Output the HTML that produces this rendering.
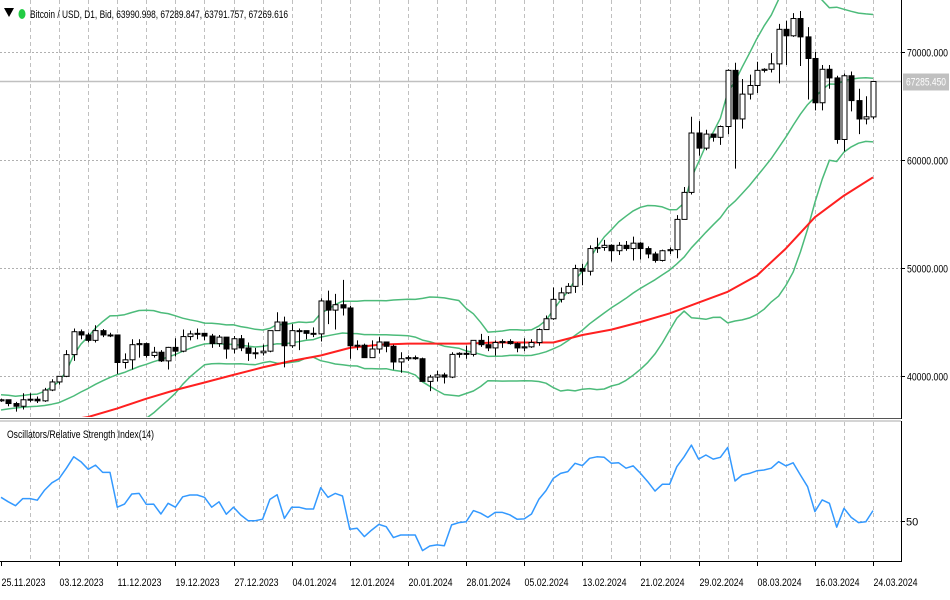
<!DOCTYPE html>
<html><head><meta charset="utf-8">
<style>
html,body{margin:0;padding:0;background:#fff;}
svg{display:block;font-family:"Liberation Sans",sans-serif;}
</style></head>
<body>
<svg id="chart" width="950" height="600" viewBox="0 0 950 600" xmlns="http://www.w3.org/2000/svg">
  <defs>
    <clipPath id="pclip"><rect x="0" y="0" width="900" height="417"/></clipPath>
    <clipPath id="rclip"><rect x="0" y="422" width="900" height="138"/></clipPath>
  </defs>
  <rect x="0" y="0" width="950" height="600" fill="#fff"/>
  <g id="grid"></g>
  <g id="price" clip-path="url(#pclip)"></g>
  <g id="rsi" clip-path="url(#rclip)"></g>
  <g id="axes">
    <line x1="0" y1="418.5" x2="901" y2="418.5" stroke="#555" stroke-width="1"/>
    <line x1="0" y1="421" x2="901" y2="421" stroke="#aaa" stroke-width="1"/>
    <line x1="901.5" y1="0" x2="901.5" y2="419" stroke="#000" stroke-width="1"/>
    <line x1="901.5" y1="421" x2="901.5" y2="562" stroke="#000" stroke-width="1"/>
    <line x1="0" y1="561.5" x2="902" y2="561.5" stroke="#000" stroke-width="1"/>
  </g>
  <g>
    <polygon points="4,8 14,8 9,17" fill="#000"/>
    <ellipse cx="22" cy="14" rx="3.5" ry="5" fill="#22cc44"/>
    <text x="30" y="18" font-size="11" textLength="258" lengthAdjust="spacingAndGlyphs" fill="#000">Bitcoin / USD, D1, Bid, 63990.998, 67289.847, 63791.757, 67269.616</text>
  </g>
  <text x="7" y="438" font-size="11" textLength="147" lengthAdjust="spacingAndGlyphs" fill="#000">Oscillators/Relative Strength Index(14)</text>
  <g id="labels"></g>
</svg>
<script>
// ---- data (prices in thousands USD) ----
const dates = ["25.11.2023","03.12.2023","11.12.2023","19.12.2023","27.12.2023","04.01.2024","12.01.2024","20.01.2024","28.01.2024","05.02.2024","13.02.2024","21.02.2024","29.02.2024","08.03.2024","16.03.2024","24.03.2024"];
const opens = [37.7,37.8,37.45,37.2,37.8,37.85,37.7,38.7,39.45,39.97,41.98,44.1,43.8,43.3,44.2,43.8,43.8,41.25,41.5,42.9,43.0,41.9,42.2,41.4,42.65,42.3,43.65,43.9,43.95,43.7,43.0,43.6,42.5,43.45,42.6,42.1,42.15,42.3,44.2,45.0,42.8,44.2,44.2,43.95,43.9,46.95,46.1,46.6,46.3,42.8,42.85,41.7,42.5,43.15,42.75,41.3,41.6,41.7,41.6,39.5,39.9,40.1,39.9,42.0,42.1,42.0,43.3,42.9,42.6,43.1,43.2,43.0,42.6,42.7,43.1,44.3,45.3,47.1,47.7,48.3,49.95,49.7,51.8,51.9,52.1,51.6,52.1,51.8,52.3,51.8,51.3,50.7,51.6,51.7,54.5,57.0,62.5,61.1,62.4,62.1,63.1,68.3,63.8,66.1,66.9,68.3,68.4,68.9,72.1,71.5,73.1,71.4,69.4,65.3,68.4,67.6,61.9,67.8,65.5,63.8,63.99];
const highs = [37.9,37.8,37.6,38.4,38.4,38.1,38.9,39.7,40.0,42.4,44.4,44.3,44.0,44.7,44.35,44.0,43.8,42.1,43.4,43.4,43.1,42.7,42.4,42.7,43.5,44.3,44.2,44.4,43.95,43.9,43.8,43.6,43.7,43.8,43.1,42.6,42.9,44.2,45.9,45.5,44.8,44.4,44.2,44.5,47.2,47.9,47.6,48.9,46.5,43.3,43.0,43.3,43.6,43.2,42.9,42.2,41.9,41.9,41.7,40.1,40.5,40.3,42.2,42.2,42.8,43.3,43.9,43.7,43.3,43.4,43.4,43.1,43.5,43.4,44.4,45.6,48.2,48.2,48.6,50.3,50.4,52.1,52.8,52.6,52.2,52.4,52.5,52.9,52.4,52.0,51.5,51.7,51.9,54.9,57.5,64.0,63.6,62.8,62.4,63.2,68.4,69.0,67.5,67.9,69.1,68.5,69.9,72.6,72.9,73.6,73.8,72.3,70.0,68.8,68.8,67.8,68.0,68.2,66.6,65.9,67.29];
const lows = [37.6,37.2,36.7,36.9,37.6,37.5,37.6,38.6,39.2,39.9,41.4,43.4,43.1,43.1,43.6,43.6,40.2,40.7,40.6,41.7,41.7,41.7,41.3,40.6,41.8,42.2,43.3,43.4,43.3,42.6,42.7,41.6,42.1,42.3,41.4,41.6,41.9,42.2,44.2,40.8,42.6,42.4,43.4,43.6,43.2,44.8,44.3,45.6,41.6,42.4,41.7,41.7,42.1,42.2,40.6,40.3,41.4,41.5,39.5,38.6,39.5,39.3,39.8,41.7,41.6,41.8,42.7,42.3,41.9,42.6,42.9,42.2,42.3,42.6,42.8,44.3,45.2,46.8,47.6,47.7,48.4,49.3,51.4,51.6,50.6,51.2,51.6,50.7,50.8,50.9,50.5,50.6,51.3,50.9,54.5,56.8,60.4,60.9,61.7,61.4,62.4,59.2,62.9,65.6,66.2,68.1,68.1,67.1,68.8,71.4,68.7,65.6,64.6,64.6,66.6,61.5,60.8,64.5,62.4,63.3,63.79];
const closes = [37.8,37.45,37.2,37.8,37.85,37.7,38.7,39.45,39.97,41.98,44.1,43.8,43.3,44.2,43.8,43.8,41.25,41.5,42.9,43.0,41.9,42.2,41.4,42.65,42.3,43.65,43.9,43.95,43.7,43.0,43.6,42.5,43.45,42.6,42.1,42.15,42.3,44.2,45.0,42.8,44.2,44.2,43.95,43.9,46.95,46.1,46.6,46.3,42.8,42.85,41.7,42.5,43.15,42.75,41.3,41.6,41.7,41.6,39.5,39.9,40.1,39.9,42.0,42.1,42.0,43.3,42.9,42.6,43.1,43.2,43.0,42.6,42.7,43.1,44.3,45.3,47.1,47.7,48.3,49.95,49.7,51.8,51.9,52.1,51.6,52.1,51.8,52.3,51.8,51.3,50.7,51.6,51.7,54.5,57.0,62.5,61.1,62.4,62.1,63.1,68.3,63.8,66.1,66.9,68.3,68.4,68.9,72.1,71.5,73.1,71.4,69.4,65.3,68.4,67.6,61.9,67.8,65.5,63.8,64.0,67.27];
const priorCloses = [35.4,35.6,36.3,36.7,37.3,37.1,37.1,37.0,35.9,37.9,36.4,36.6,36.6,37.3,37.5,36.2,37.4,37.3,37.7];
const maDays = [0,4,8,12,16,20,24,28,32,36,40,44,48,52,56,60,64,68,72,76,80,84,88,92,96,100,104,108,112,116,120];
const maValues = [34.6,35.3,35.8,36.2,37.0,37.9,38.7,39.4,40.1,40.8,41.4,41.9,42.6,42.9,43.0,43.0,43.0,43.1,43.1,43.1,43.8,44.3,45.0,45.8,46.8,47.8,49.3,51.8,54.7,56.7,58.4];
const rsiValues = [59.1,57.4,55.9,58.6,58.6,58.0,61.9,64.7,66.3,70.3,74.7,72.8,69.9,71.5,68.7,68.7,55.3,56.5,60.4,60.6,56.4,56.5,52.7,56.8,55.3,59.3,60.0,60.0,59.1,55.3,57.4,52.6,55.3,52.3,50.1,50.1,50.7,58.3,60.1,51.0,55.3,55.3,54.6,54.6,62.8,59.1,60.6,59.6,46.8,47.2,44.0,46.5,48.7,47.8,43.6,44.6,44.6,44.6,38.6,40.4,40.8,40.5,48.5,49.4,49.7,54.0,53.0,51.4,53.3,53.3,52.4,50.7,50.8,52.7,58.3,61.7,66.4,68.3,69.0,72.2,71.3,74.1,74.7,74.5,72.2,72.4,70.3,71.2,68.3,65.1,61.5,64.1,64.1,70.9,74.7,79.2,73.8,75.4,73.8,74.5,78.3,65.4,67.7,68.3,69.3,69.6,70.3,72.8,71.2,72.4,67.7,63.2,53.6,58.1,56.8,47.6,54.9,51.4,49.4,49.7,54.0];
const priceTicks = [40,50,60,70];
const currentPrice = 67.28545;

// ---- axis functions ----
const NS = "http://www.w3.org/2000/svg";
function xOf(d){ return 1 + d * 7.267; }
function yP(p){ return 52 + (70 - p) * 10.8; }
function yR(v){ return 521 - (v - 50) * 2.6; }
function mk(tag, attrs, parent){
  const e = document.createElementNS(NS, tag);
  for (const k in attrs) e.setAttribute(k, attrs[k]);
  parent.appendChild(e);
  return e;
}
const grid = document.getElementById('grid');
const price = document.getElementById('price');
const rsi = document.getElementById('rsi');
const labels = document.getElementById('labels');

// vertical grid every 4 days
for (let d = 4; d < closes.length; d += 4) {
  const gx = Math.round(xOf(d)) + 0.5;
  const l1 = mk('line', {x1:gx, y1:0, x2:gx, y2:418, stroke:'#c0c0c0', 'stroke-dasharray':'4,3'}, grid);
  
  
  const l2 = mk('line', {x1:gx, y1:422, x2:gx, y2:561, stroke:'#c0c0c0', 'stroke-dasharray':'4,3'}, grid);
  
  
}
// horizontal price grid + labels
priceTicks.forEach(p => {
  const gy = Math.round(yP(p)) + 0.5;
  const l = mk('line', {x1:0, y1:gy, x2:901, y2:gy, stroke:'#b0b0b0', 'stroke-dasharray':'2,2'}, grid);
  
  
  const tk = mk('line', {x1:901, y1:gy, x2:905, y2:gy, stroke:'#000'}, labels);
  
  
  const t = mk('text', {x:907, y:gy + 4, 'font-size':11, textLength:41, lengthAdjust:'spacingAndGlyphs', fill:'#000'}, labels);
  t.textContent = (p * 1000).toFixed(3);
  
  
});
// RSI 50 level
{
  const gy = Math.round(yR(50)) + 0.5;
  const l = mk('line', {x1:0, y1:gy, x2:901, y2:gy, stroke:'#b0b0b0', 'stroke-dasharray':'2,2'}, grid);
  
  
  const tk = mk('line', {x1:901, y1:gy, x2:905, y2:gy, stroke:'#000'}, labels);
  
  
  const t = mk('text', {x:906, y:gy + 4, 'font-size':11, fill:'#000'}, labels);
  t.textContent = '50';
  
  
}
// date labels every 8 days
dates.forEach((s, i) => {
  const dx = Math.round(xOf(i * 8)) + 0.5;
  const tk = mk('line', {x1:dx, y1:561, x2:dx, y2:566, stroke:'#000'}, labels);
  
  
  const t = mk('text', {x:dx, y:586, 'font-size':11, textLength:44, lengthAdjust:'spacingAndGlyphs', fill:'#000'}, labels);
  t.textContent = s;
  
  
});

// Bollinger bands (20, 2)
const all = priorCloses.concat(closes);
const up = [], mid = [], lo = [];
for (let i = 0; i < closes.length; i++) {
  const w = all.slice(i + priorCloses.length - 19, i + priorCloses.length + 1);
  const m = w.reduce((a, b) => a + b, 0) / w.length;
  const sd = Math.sqrt(w.reduce((a, b) => a + (b - m) * (b - m), 0) / w.length);
  mid.push(m); up.push(m + 2 * sd); lo.push(m - 2 * sd);
}
function poly(vals, xs, yf, color, width, name, parent){
  const pts = vals.map((v, i) => xOf(xs ? xs[i] : i).toFixed(1) + ',' + yf(v).toFixed(1)).join(' ');
  const p = mk('polyline', {points:pts, fill:'none', stroke:color, 'stroke-width':width, 'stroke-linejoin':'round'}, parent);
  
  
}
poly(up, null, yP, '#4cbb7a', 1.5, 'bollinger-upper', price);
poly(mid, null, yP, '#4cbb7a', 1.5, 'bollinger-middle', price);
poly(lo, null, yP, '#4cbb7a', 1.5, 'bollinger-lower', price);
poly(maValues, maDays, yP, '#ff2020', 2, 'moving-average', price);

// current price line
{
  const cy = Math.round(yP(currentPrice)) + 0.5;
  const l = mk('line', {x1:0, y1:cy, x2:901, y2:cy, stroke:'#c0c0c0', 'stroke-width':1.5}, grid);
  
  
  const r = mk('rect', {x:903, y:cy - 8, width:46, height:17, fill:'#c0c0c0'}, labels);
  
  
  const t = mk('text', {x:906, y:cy + 4, 'font-size':11, textLength:40, lengthAdjust:'spacingAndGlyphs', fill:'#fff'}, labels);
  t.textContent = (currentPrice * 1000).toFixed(3);
  
  
}

// candles
for (let i = 0; i < closes.length; i++) {
  const cx = Math.round(xOf(i)) + 0.5;
  const g = mk('g', {}, price);
  
  
  mk('line', {x1:cx, y1:yP(highs[i]), x2:cx, y2:yP(lows[i]), stroke:'#000', 'stroke-width':1}, g);
  const bull = closes[i] >= opens[i];
  const top = yP(Math.max(opens[i], closes[i]));
  const bot = yP(Math.min(opens[i], closes[i]));
  mk('rect', {x:cx - 2.5, y:top, width:5, height:Math.max(1, bot - top), fill: bull ? '#fff' : '#000', stroke:'#000', 'stroke-width':1}, g);
}

// RSI
poly(rsiValues, null, yR, '#3399ff', 1.5, 'rsi-line', rsi);
</script>
</body></html>
